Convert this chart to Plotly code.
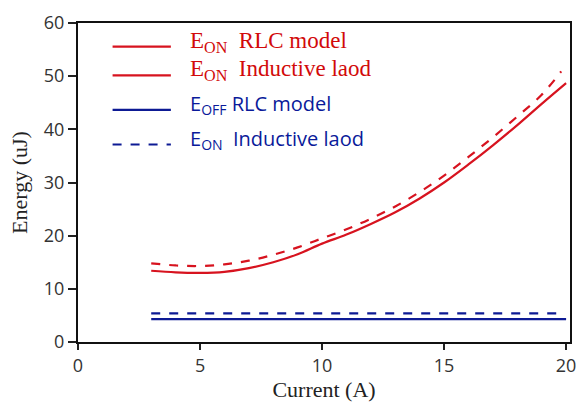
import plotly.graph_objects as go

# ---- data ----
x_on = [3, 4, 5, 6, 7, 8, 9, 10, 11, 12, 13, 14, 15, 16, 17, 18, 19, 20]
eon_rlc = [13.4, 13.1, 13.0, 13.2, 13.9, 15.0, 16.5, 18.5, 20.2, 22.2, 24.4, 27.0, 30.0, 33.4, 37.0, 40.8, 44.8, 48.7]
x_on_ind = [3, 4, 5, 6, 7, 8, 9, 10, 11, 12, 13, 14, 15, 16, 17, 18, 19, 19.8]
eon_ind = [14.8, 14.4, 14.3, 14.6, 15.3, 16.4, 17.8, 19.5, 21.2, 23.2, 25.5, 28.2, 31.3, 34.8, 38.5, 42.4, 46.5, 50.9]
x_off = [3, 20]
eoff_rlc = [4.3, 4.3]
x_off_ind = [3, 19.9]
eoff_ind = [5.4, 5.4]

x_ticks = [0, 5, 10, 15, 20]
y_ticks = [0, 10, 20, 30, 40, 50, 60]

legend_labels = ["E<sub>ON</sub>  RLC model", "E<sub>ON</sub>  Inductive laod",
                 "E<sub>OFF</sub> RLC model", "E<sub>ON</sub>  Inductive laod"]

RED = "#d7131f"
RED_TXT = "#d20a0a"
BLUE = "#0d1a94"
BLUE_TXT = "#0a1a9a"
serif = "Liberation Serif, Times New Roman, serif"
sans = "Open Sans, Liberation Sans, sans-serif"

fig = go.Figure()
fig.add_trace(go.Scatter(x=x_on, y=eon_rlc, mode="lines", line=dict(color=RED, width=2.2, shape="spline")))
fig.add_trace(go.Scatter(x=x_on_ind, y=eon_ind, mode="lines", line=dict(color=RED, width=2.2, dash="dash", shape="spline")))
fig.add_trace(go.Scatter(x=x_off, y=eoff_rlc, mode="lines", line=dict(color=BLUE, width=2.2)))
fig.add_trace(go.Scatter(x=x_off_ind, y=eoff_ind, mode="lines", line=dict(color=BLUE, width=2.2, dash="dash")))

# ---- hand-made legend (longer samples, per-entry fonts/colours as in the reference) ----
PL, PT, PW, PH = 78, 20, 498, 323
def px2paper(px, py):
    return (px - PL) / PW, (PT + PH - py) / PH

rows_y = [44, 73, 108, 143]
styles = [(RED, "solid", RED_TXT, serif, 23), (RED, "solid", RED_TXT, serif, 23),
          (BLUE, "solid", BLUE_TXT, sans, 20), (BLUE, "dash", BLUE_TXT, sans, 20)]
for ry, lbl, (lc, ld, tc, fam, fs) in zip(rows_y, legend_labels, styles):
    x0, y0 = px2paper(113, ry)
    x1, _ = px2paper(172, ry)
    fig.add_shape(type="line", xref="paper", yref="paper", x0=x0, x1=x1, y0=y0, y1=y0,
                  line=dict(color=lc, width=2.2, dash=ld))
    tx, ty = px2paper(189, ry - 5)
    fig.add_annotation(xref="paper", yref="paper", x=tx, y=ty, xanchor="left", yanchor="middle",
                       text=lbl, showarrow=False, font=dict(family=fam, size=fs, color=tc))

fig.update_layout(
    width=586, height=404,
    margin=dict(l=PL, r=586 - PL - PW, t=PT, b=404 - PT - PH),
    paper_bgcolor="white", plot_bgcolor="white",
    showlegend=False,
    xaxis=dict(range=[0, 20.16], tickvals=x_ticks, ticks="outside", ticklen=6, tickwidth=1.5,
               tickcolor="#222", showline=True, linecolor="#111", linewidth=2, mirror=True,
               showgrid=False, zeroline=False,
               tickfont=dict(family=sans, size=18, color="#333"),
               title=dict(text="Current (A)", font=dict(family=serif, size=22, color="#222"), standoff=2)),
    yaxis=dict(range=[0, 60], tickvals=y_ticks, ticks="outside", ticklen=8, tickwidth=1.5,
               tickcolor="#222", showline=True, linecolor="#111", linewidth=2, mirror=True,
               showgrid=False, zeroline=False,
               tickfont=dict(family=sans, size=18, color="#333"),
               title=dict(text="Energy (uJ)", font=dict(family=serif, size=22, color="#222"), standoff=10)),
)

fig.write_html("out.html")
